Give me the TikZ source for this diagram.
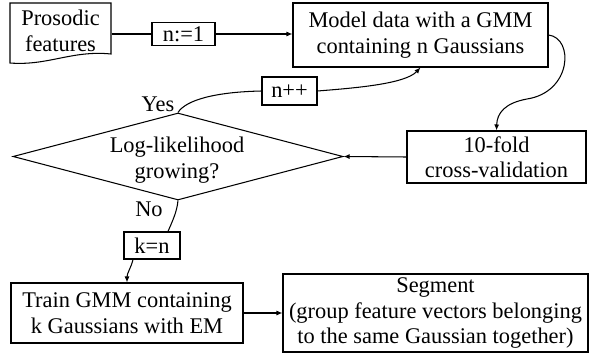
\documentclass[tikz,border=0pt]{standalone}
\usepackage{fontspec}
\setmainfont{Liberation Serif}
\usetikzlibrary{shapes.geometric,arrows.meta}
\begin{document}
\begin{tikzpicture}[x=1pt,y=-1pt,
  font=\fontsize{22.4}{25.5}\selectfont,
  line width=1.05pt,
  >={Latex[length=6pt,width=5pt]},
  box/.style={draw, align=center, inner sep=0pt},
  plain/.style={align=center, inner sep=0pt}]
\useasboundingbox (0,0) rectangle (589,353);
% document shape
\draw (10,3) -- (111,3) -- (111,54) .. controls (72,50) and (48,66) .. (10,63) -- cycle;
\node[plain, minimum width=101pt] (pf) at (60.5,31) {Prosodic\\features};
\node[box, minimum width=63pt, minimum height=23pt] (n1) at (183.5,34) {n:=1};
\node[box, minimum width=255pt, minimum height=64pt] (model) at (420.5,35) {Model data with a GMM\\containing n Gaussians};
\node[box, minimum width=55pt, minimum height=28pt] (npp) at (289.5,91) {n++};
\node[box, minimum width=179pt, minimum height=52pt] (fold) at (496.5,157) {10-fold\\cross-validation};
\node[draw, diamond, minimum width=330pt, minimum height=87pt, inner sep=0pt] (dia) at (178,156.5) {};
\node[plain] (dtext) at (177,160) {Log-likelihood\\growing?};
\node[plain] (yes) at (158,104) {Yes};
\node[plain] (no) at (149,209) {No};
\node[box, minimum width=56pt, minimum height=27pt] (kn) at (152,245.5) {k=n};
\node[box, minimum width=232pt, minimum height=60pt] (train) at (127,313) {Train GMM containing\\k Gaussians with EM};
\node[box, minimum width=305pt, minimum height=78pt] (seg) at (435.5,313) {Segment\\(group feature vectors belonging\\to the same Gaussian together)};
% connectors
\draw (pf.east |- n1.west) -- (n1.west);
\draw[->] (n1.east) -- (model.west |- n1.east);
\draw[->] (model.east) .. controls (574,38) and (572,92) .. (527,99) .. controls (505,103) and (497,113) .. (fold.north);
\draw[->] (fold.west) -- (dia.east);
\draw (dia.north) .. controls (186,100) and (215,92) .. (npp.west);
\draw[->] (npp.east) .. controls (355,88) and (405,84) .. (model.south);
\draw (dia.south) .. controls (177,212) and (172,222) .. (kn.north -| 168,0);
\draw[->] ([xshift=-19pt]kn.south) .. controls (131,268) and (127,273) .. (train.north);
\draw[->] (train.east) -- (seg.west);
\end{tikzpicture}
\end{document}
